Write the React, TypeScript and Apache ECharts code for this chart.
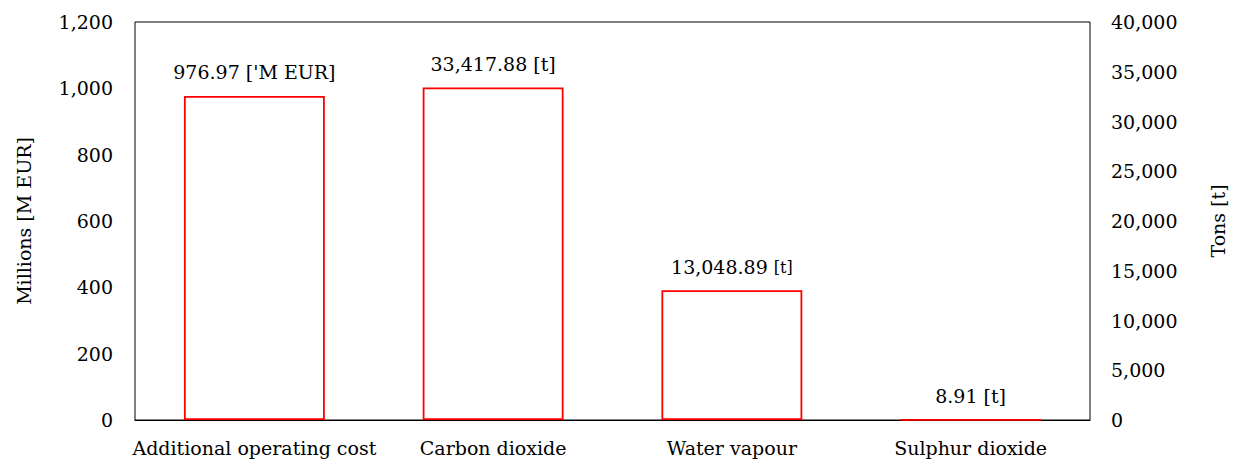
import React, { useEffect, useRef } from "react";
import * as echarts from "echarts";

const categories = ["Additional operating cost", "Carbon dioxide", "Water vapour", "Sulphur dioxide"];
const costValues = [976.97, null, null, null];
const tonValues = [null, 33417.88, 13048.89, 8.91];
const costUnit = "['M EUR]";
const tonUnit = "[t]";
const leftAxisName = "Millions [M EUR]";
const rightAxisName = "Tons [t]";

const FONT = "DejaVu Serif";
const FS = 19;
const fmt = (v: number) =>
  v.toLocaleString("en-US", { minimumFractionDigits: 2, maximumFractionDigits: 2 });

export default function App() {
  const ref = useRef<HTMLDivElement>(null);
  useEffect(() => {
    document.body.style.margin = "0";
    const chart = echarts.init(ref.current!, null, { renderer: "svg" });
    const barStyle = { color: "#ffffff", borderColor: "#ff0000", borderWidth: 1.8 };
    chart.setOption({
      animation: false,
      textStyle: { fontFamily: FONT },
      grid: {
        left: 135, right: 148, top: 22, bottom: 41,
        show: true, borderColor: "#000", borderWidth: 1, backgroundColor: "transparent",
      },
      xAxis: {
        type: "category",
        data: categories,
        axisLine: { show: true, lineStyle: { color: "#000", width: 1 } },
        axisTick: { show: false },
        axisLabel: { color: "#000", fontFamily: FONT, fontSize: FS, margin: 18, interval: 0 },
      },
      yAxis: [
        {
          type: "value", min: 0, max: 1200, interval: 200, position: "left",
          name: leftAxisName, nameLocation: "middle", nameGap: 102, nameRotate: 90,
          nameTextStyle: { color: "#000", fontFamily: FONT, fontSize: FS },
          axisLine: { show: false }, axisTick: { show: false }, splitLine: { show: false },
          axisLabel: {
            color: "#000", fontFamily: FONT, fontSize: FS, margin: 22,
            formatter: (v: number) => v.toLocaleString("en-US"),
          },
        },
        {
          type: "value", min: 0, max: 40000, interval: 5000, position: "right",
          name: rightAxisName, nameLocation: "middle", nameGap: 118, nameRotate: 90,
          nameTextStyle: { color: "#000", fontFamily: FONT, fontSize: FS },
          axisLine: { show: false }, axisTick: { show: false }, splitLine: { show: false },
          axisLabel: {
            color: "#000", fontFamily: FONT, fontSize: FS, margin: 21,
            formatter: (v: number) => v.toLocaleString("en-US"),
          },
        },
      ],
      series: [
        {
          type: "bar", yAxisIndex: 0, data: costValues, barWidth: "59%", barGap: "-100%",
          itemStyle: barStyle,
          label: {
            show: true, position: "top", distance: 14, color: "#000", fontFamily: FONT, fontSize: FS,
            formatter: (p: any) => `${fmt(p.value)} ${costUnit}`,
          },
        },
        {
          type: "bar", yAxisIndex: 1, data: tonValues, barWidth: "59%", barGap: "-100%",
          itemStyle: barStyle,
          label: {
            show: true, position: "top", distance: 14, color: "#000", fontFamily: FONT, fontSize: FS,
            formatter: (p: any) =>
              p.dataIndex === 2
                ? `{m|${fmt(p.value)}} {s|${tonUnit}}`
                : `${fmt(p.value)} ${tonUnit}`,
            rich: {
              m: { fontSize: FS, fontFamily: FONT, color: "#000", verticalAlign: "bottom" },
              s: { fontSize: 16, fontFamily: FONT, color: "#000", verticalAlign: "bottom", padding: [0, 0, 1, 0] },
            },
          },
        },
      ],
    });
    return () => chart.dispose();
  }, []);
  return <div ref={ref} style={{ width: 1238, height: 461 }} />;
}
